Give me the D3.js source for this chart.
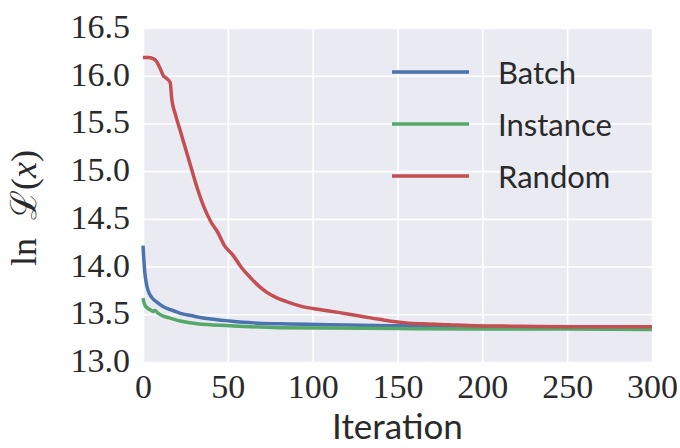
<!DOCTYPE html>
<html>
<head>
<meta charset="utf-8">
<script src="https://cdn.jsdelivr.net/npm/d3@7"></script>
<style>
  body { margin: 0; background: #fff; }
  svg { display: block; }
</style>
</head>
<body>
<div id="chart"></div>
<script>
// values
const xTicks = [0, 50, 100, 150, 200, 250, 300];
const yTicks = [13.0, 13.5, 14.0, 14.5, 15.0, 15.5, 16.0, 16.5];

const seriesNames = ['Batch', 'Instance', 'Random'];
const seriesColors = ['#4C72B0', '#55A868', '#C44E52'];

const iterBatch = [0, 1, 2, 3, 5, 8, 12, 16, 22, 30, 40, 51, 65, 81, 110, 150, 200, 250, 300];
const lossBatch = [14.22, 13.95, 13.82, 13.75, 13.68, 13.63, 13.58, 13.55, 13.51, 13.48, 13.45, 13.43, 13.41, 13.40, 13.39, 13.38, 13.37, 13.36, 13.36];

const iterInstance = [0, 1, 3, 5, 6, 7, 9, 12, 16, 22, 32, 51, 80, 110, 150, 200, 250, 300];
const lossInstance = [13.67, 13.60, 13.56, 13.54, 13.53, 13.54, 13.51, 13.48, 13.46, 13.43, 13.40, 13.38, 13.36, 13.355, 13.35, 13.345, 13.345, 13.34];

const iterRandom = [0, 3, 6, 8, 10, 12, 14, 16, 17, 19, 22, 25, 28, 32, 36, 40, 44, 48, 53, 58, 63, 68, 73, 78, 85, 94, 104, 115, 125, 135, 145, 155, 165, 180, 196, 220, 250, 300];
const lossRandom = [16.19, 16.19, 16.18, 16.15, 16.08, 16.00, 15.97, 15.93, 15.75, 15.60, 15.42, 15.24, 15.06, 14.82, 14.62, 14.47, 14.36, 14.22, 14.12, 13.99, 13.89, 13.80, 13.73, 13.68, 13.63, 13.58, 13.55, 13.52, 13.49, 13.46, 13.43, 13.41, 13.40, 13.39, 13.38, 13.375, 13.37, 13.37];

const width = 680;
const height = 448;
const plot = { left: 143, right: 652, top: 28, bottom: 362 };

const svg = d3.select('#chart')
    .append('svg')
    .attr('width', width)
    .attr('height', height);

const xScale = d3.scaleLinear().domain([0, 300]).range([plot.left, plot.right]);
const yScale = d3.scaleLinear().domain([13, 16.5]).range([plot.bottom, plot.top]);

// background
svg.append('rect')
    .attr('x', plot.left)
    .attr('y', plot.top)
    .attr('width', plot.right - plot.left)
    .attr('height', plot.bottom - plot.top)
    .attr('fill', '#EAEAF2');

// grid
const xGrid = d3.axisBottom(xScale).tickValues(xTicks).tickSize(-(plot.bottom - plot.top)).tickFormat('');
const yGrid = d3.axisLeft(yScale).tickValues(yTicks).tickSize(-(plot.right - plot.left)).tickFormat('');

svg.append('g')
    .attr('transform', `translate(0, ${plot.bottom})`)
    .call(xGrid)
    .call(g => g.select('.domain').remove())
    .selectAll('line').attr('stroke', '#fff').attr('stroke-width', 1.6);

svg.append('g')
    .attr('transform', `translate(${plot.left}, 0)`)
    .call(yGrid)
    .call(g => g.select('.domain').remove())
    .selectAll('line').attr('stroke', '#fff').attr('stroke-width', 1.6);

// tick labels
const xAxis = d3.axisBottom(xScale).tickValues(xTicks).tickSize(0).tickPadding(12).tickFormat(d3.format('d'));
const yAxis = d3.axisLeft(yScale).tickValues(yTicks).tickSize(0).tickPadding(13).tickFormat(d3.format('.1f'));

svg.append('g')
    .attr('transform', `translate(0, ${plot.bottom})`)
    .call(xAxis)
    .call(g => g.select('.domain').remove())
    .selectAll('text')
    .attr('fill', '#2a2a2a')
    .style('font-family', '"Liberation Serif", serif')
    .style('font-size', '34px');

svg.append('g')
    .attr('transform', `translate(${plot.left}, 0)`)
    .call(yAxis)
    .call(g => g.select('.domain').remove())
    .selectAll('text')
    .attr('dy', '0.28em')
    .attr('fill', '#2a2a2a')
    .style('font-family', '"Liberation Serif", serif')
    .style('font-size', '34px');

// lines
const line = d3.line()
    .x(d => xScale(d[0]))
    .y(d => yScale(d[1]))
    .curve(d3.curveMonotoneX);

const series = [
    d3.zip(iterBatch, lossBatch),
    d3.zip(iterInstance, lossInstance),
    d3.zip(iterRandom, lossRandom)
];

series.forEach((values, i) => {
    svg.append('path')
        .datum(values)
        .attr('d', line)
        .attr('fill', 'none')
        .attr('stroke', seriesColors[i])
        .attr('stroke-width', 3.5)
        .attr('stroke-linejoin', 'round');
});

// legend
const legend = svg.append('g');
seriesNames.forEach((name, i) => {
    const y = 72 + i * 52;
    legend.append('line')
        .attr('x1', 392).attr('x2', 469)
        .attr('y1', y).attr('y2', y)
        .attr('stroke', seriesColors[i])
        .attr('stroke-width', 3.5);
    legend.append('text')
        .attr('x', 498)
        .attr('y', y + 12)
        .text(name)
        .attr('fill', '#2a2a2a')
        .style('font-family', 'Lato, sans-serif')
        .style('font-size', '31px');
});

// axis titles
svg.append('text')
    .attr('text-anchor', 'middle')
    .attr('x', (plot.left + plot.right) / 2)
    .attr('y', 439)
    .attr('fill', '#2a2a2a')
    .style('font-family', 'Lato, sans-serif')
    .style('font-size', '35px')
    .text('Iteration');

const yLabel = svg.append('text')
    .attr('text-anchor', 'middle')
    .attr('transform', 'rotate(-90)')
    .attr('x', -208)
    .attr('y', 36)
    .attr('fill', '#2a2a2a')
    .style('font-family', '"Liberation Serif", "DejaVu Serif", serif')
    .style('font-size', '36px');
yLabel.append('tspan').text('ln\u2002');
yLabel.append('tspan').text('\u2112');
yLabel.append('tspan').text('(');
yLabel.append('tspan').style('font-style', 'italic').text('x');
yLabel.append('tspan').text(')');
</script>
</body>
</html>
